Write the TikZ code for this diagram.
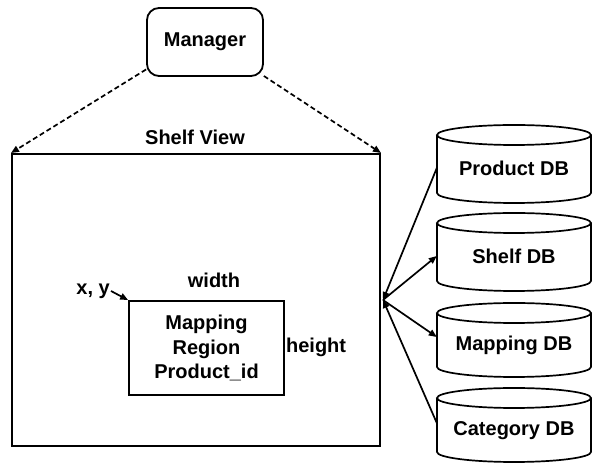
\documentclass[tikz,border=0pt]{standalone}
\usepackage{fontspec}
\setmainfont{Liberation Sans}
\usetikzlibrary{arrows.meta}

% cylinder outline of a database, drawn from its top and bottom heights
\newcommand\dbshape[2]{%
  \draw[cylline] (514,#1-10) ellipse[x radius=77, y radius=10];
  \draw[cylline] (437,#1-10) -- (437,#2+10)
    arc[start angle=180, end angle=360, x radius=77, y radius=10] -- (591,#1-10);
}

\begin{document}
\begin{tikzpicture}[x=1pt,y=1pt,
  txt/.style={font=\fontsize{20}{24.5}\selectfont\bfseries, align=center},
  box/.style={draw, line width=1.8pt},
  cylline/.style={line width=1.7pt},
  tip/.style={-{Triangle[length=8pt,width=6.5pt]}},
  dasharrow/.style={tip, line width=1.7pt, dash pattern=on 5pt off 3pt},
  conn/.style={tip, line width=1.7pt},
  dbtext/.style={txt, minimum width=154pt, inner sep=0pt}]

\useasboundingbox (0,0) rectangle (592,463);

% manager and the shelf view
\node[txt, box, rounded corners=12pt, minimum width=116pt, minimum height=68pt]
  (mgr) at (205,421) {Manager};
\node[draw, line width=2pt, minimum width=368pt, minimum height=292pt, inner sep=0pt]
  (shelf) at (196,163) {};
\node[txt] (svlabel) at (195,326) {Shelf View};

% mapping region inside the shelf
\node[txt, box, minimum width=155pt, minimum height=94pt, inner sep=0pt]
  (region) at (206.5,115) {Mapping\\Region\\Product\_id};
\node[txt] (wlabel) at (214,183) {width};
\node[txt, anchor=west, inner sep=1pt] (hlabel) at ([yshift=1pt]region.east) {height};
\node[txt, anchor=east, inner sep=1pt] (xy) at (111,172) {x, y};

% databases
\dbshape{338}{260}
\node[dbtext] (pdb) at (514,295) {Product DB};
\dbshape{250}{172}
\node[dbtext] (sdb) at (514,207) {Shelf DB};
\dbshape{160}{86}
\node[dbtext] (mdb) at (514,118) {Mapping DB};
\dbshape{75}{1}
\node[dbtext] (cdb) at (514,32) {Category DB};

% connectors
\draw[dasharrow] (mgr.205) -- (shelf.north west);
\draw[dasharrow] (mgr.-30) -- (shelf.north east);
\draw[conn] (xy.east) -- (region.north west);
\coordinate (hub) at ([xshift=2pt]shelf.east);
\draw[conn] (pdb.west) -- (hub);
\draw[conn] (hub) -- (sdb.west);
\draw[conn] (hub) -- ([yshift=8pt]mdb.west);
\draw[conn] ([yshift=8pt]cdb.west) -- (hub);
\end{tikzpicture}
\end{document}
